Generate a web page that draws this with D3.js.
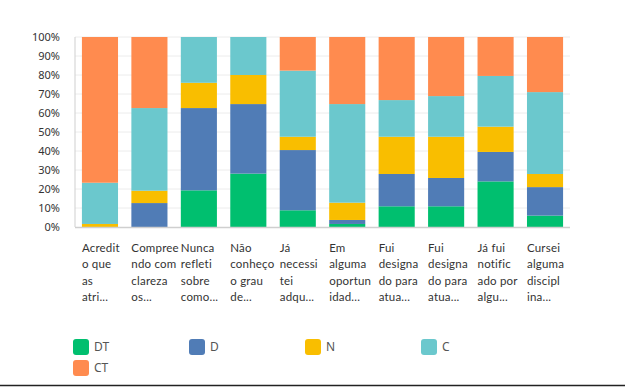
<!DOCTYPE html>
<html>
<head>
<meta charset="utf-8">
<script src="https://cdn.jsdelivr.net/npm/d3@7"></script>
<style>
  body { margin: 0; background: #fff; }
  svg { display: block; font-family: "Noto Sans", "DejaVu Sans", sans-serif; }
</style>
</head>
<body>
<svg id="chart" width="625" height="387"></svg>
<script>
// category labels, as shown (already truncated), one entry per line
const categories = [
  ['Acredit', 'o que', 'as', 'atri...'],
  ['Compree', 'ndo com', 'clareza', 'os...'],
  ['Nunca', 'refleti', 'sobre', 'como...'],
  ['Não', 'conheço', 'o grau', 'de...'],
  ['Já', 'necessi', 'tei', 'adqu...'],
  ['Em', 'alguma', 'oportun', 'idad...'],
  ['Fui', 'designa', 'do para', 'atua...'],
  ['Fui', 'designa', 'do para', 'atua...'],
  ['Já fui', 'notific', 'ado por', 'algu...'],
  ['Cursei', 'alguma', 'discipl', 'ina...']
];
const seriesNames = ['DT', 'D', 'N', 'C', 'CT'];
const DT = [0, 0, 19.3, 28.1, 8.8, 1.6, 10.9, 10.9, 24.0, 6.0];
const D  = [0, 12.6, 43.3, 36.6, 31.7, 2.1, 17.0, 14.9, 15.5, 15.0];
const N  = [1.6, 6.5, 13.3, 15.3, 7.0, 9.1, 19.6, 21.7, 13.3, 6.9];
const C  = [21.7, 43.5, 24.1, 20.0, 34.8, 51.9, 19.3, 21.4, 26.7, 43.1];
const CT = [76.7, 37.4, 0, 0, 17.7, 35.3, 33.2, 31.1, 20.5, 29.0];
const yTicks = [0, 10, 20, 30, 40, 50, 60, 70, 80, 90, 100];

const colors = ['#00bf6f', '#507cb6', '#f9be00', '#6bc8cd', '#ff8b4f'];

const svg = d3.select('#chart');
const plotLeft = 75, plotRight = 570, plotTop = 37, plotBottom = 227;

const rows = categories.map((c, i) => ({
  i, DT: DT[i], D: D[i], N: N[i], C: C[i], CT: CT[i]
}));
const stack = d3.stack().keys(seriesNames)(rows);

const x = d3.scaleBand()
  .domain(d3.range(categories.length))
  .range([plotLeft, plotRight])
  .paddingInner(0.27)
  .paddingOuter(0.14);
const y = d3.scaleLinear().domain([0, 100]).range([plotBottom, plotTop]);

// grid
svg.append('g')
  .selectAll('line')
  .data(yTicks.filter(t => t > 0))
  .enter()
  .append('line')
  .attr('x1', plotLeft)
  .attr('x2', plotRight)
  .attr('y1', d => y(d))
  .attr('y2', d => y(d))
  .attr('stroke', '#ececec')
  .attr('stroke-width', 1);

// y tick labels
svg.append('g')
  .selectAll('text')
  .data(yTicks)
  .enter()
  .append('text')
  .attr('x', 60)
  .attr('y', d => y(d))
  .attr('dy', '0.35em')
  .attr('text-anchor', 'end')
  .style('font-size', '11px')
  .style('fill', '#333')
  .text(d => d + '%');

// bars
svg.append('g')
  .selectAll('g')
  .data(stack)
  .enter()
  .append('g')
  .attr('fill', (d, i) => colors[i])
  .selectAll('rect')
  .data(d => d)
  .enter()
  .append('rect')
  .attr('x', d => x(d.data.i))
  .attr('width', x.bandwidth())
  .attr('y', d => y(d[1]))
  .attr('height', d => y(d[0]) - y(d[1]));

// axis lines
svg.append('line')
  .attr('x1', plotLeft).attr('x2', plotLeft)
  .attr('y1', plotTop).attr('y2', plotBottom)
  .attr('stroke', '#cfcfcf');
svg.append('line')
  .attr('x1', plotLeft).attr('x2', plotRight)
  .attr('y1', plotBottom + 0.5).attr('y2', plotBottom + 0.5)
  .attr('stroke', '#cfcfcf')
  .attr('stroke-width', 1.5);

// category labels
const cat = svg.append('g')
  .selectAll('text')
  .data(categories)
  .enter()
  .append('text')
  .attr('x', (d, i) => x(i))
  .attr('y', 252)
  .style('font-family', 'Lato, "Noto Sans", sans-serif')
  .style('font-size', '11.5px')
  .style('letter-spacing', '0.2px')
  .style('fill', '#333');
cat.selectAll('tspan')
  .data(d => d)
  .enter()
  .append('tspan')
  .attr('x', function () { return d3.select(this.parentNode).attr('x'); })
  .attr('dy', (d, i) => (i === 0 ? 0 : 16.3))
  .text(d => d);

// legend
const legend = svg.append('g')
  .selectAll('g')
  .data(seriesNames)
  .enter()
  .append('g')
  .attr('transform', (d, i) => `translate(${73 + (i % 4) * 116}, ${339 + Math.floor(i / 4) * 21})`);
legend.append('rect')
  .attr('width', 16)
  .attr('height', 16)
  .attr('rx', 3)
  .attr('fill', (d, i) => colors[i]);
legend.append('text')
  .attr('x', 21)
  .attr('y', 8)
  .attr('dy', '0.35em')
  .style('font-size', '12px')
  .style('fill', '#555')
  .text(d => d);

// bottom rule
svg.append('line')
  .attr('x1', 0).attr('x2', 625)
  .attr('y1', 385.5).attr('y2', 385.5)
  .attr('stroke', '#222')
  .attr('stroke-width', 1.5);
</script>
</body>
</html>
